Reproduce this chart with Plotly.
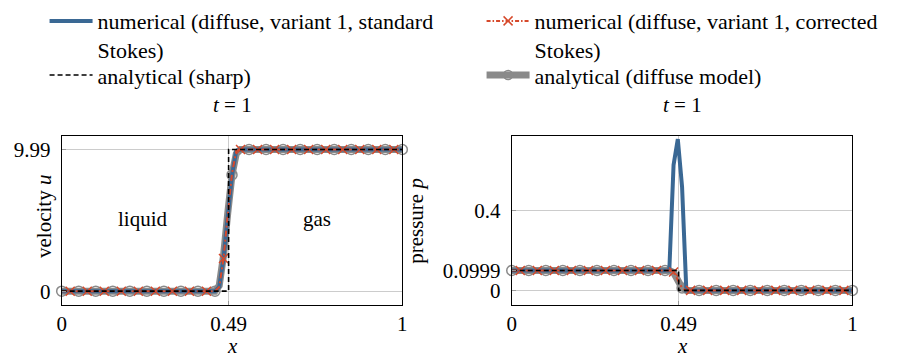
import numpy as np
import plotly.graph_objects as go
from plotly.subplots import make_subplots

# ---------------- data ----------------
x_grid = np.linspace(0.0, 1.0, 81)  # numerical grid, dx = 0.0125

# velocity u, numerical (standard Stokes)
u_std = ([0.0] * 37 + [0.3, 2.3, 5.3, 8.2, 9.9] + [9.99] * 39)
# velocity u, numerical (corrected Stokes)
u_cor = ([0.0] * 37 + [0.3, 2.3, 5.4, 8.3, 9.9] + [9.99] * 39)
# velocity u, analytical (diffuse model)
u_dif = ([0.0] * 37 + [0.4, 2.5, 5.5, 8.2, 9.7] + [9.99] * 39)

# pressure p, numerical (standard Stokes) -- spurious peak
p_std = ([0.0999] * 38 + [0.63, 0.76, 0.52] + [0.0] * 40)
# pressure p, numerical (corrected Stokes)
p_cor = ([0.0999] * 38 + [0.092, 0.055, 0.012] + [0.0] * 40)
# pressure p, analytical (diffuse model)
p_dif = ([0.0999] * 38 + [0.090, 0.052, 0.012] + [0.0] * 40)

# analytical sharp solutions
x_sharp = [0.0, 0.49, 0.49, 1.0]
u_sharp = [0.0, 0.0, 9.99, 9.99]
p_sharp = [0.0999, 0.0999, 0.0, 0.0]

x_ticks = [0, 0.49, 1]
x_ticktext = ["0", "0.49", "1"]
u_ticks = [0, 9.99]
u_ticktext = ["0", "9.99"]
p_ticks = [0, 0.0999, 0.4]
p_ticktext = ["0", "0.0999", "0.4"]

legend_names = [
    "numerical (diffuse, variant 1, standard<br>Stokes)",
    "numerical (diffuse, variant 1, corrected<br>Stokes)",
    "analytical (sharp)",
    "analytical (diffuse model)",
]

# ---------------- style ----------------
FONT = "Liberation Serif"
FS = 21
FSL = 22
BLUE = "#3a6894"
RED = "#d6492b"
GRAY = "#8a8a8a"
BLACK = "#000000"
GRID = "#cccccc"

fig = make_subplots(rows=1, cols=2)

xg = np.asarray(x_grid)


def add_panel(col, y_dif, y_std, y_cor, y_sharp):
    yd = np.asarray(y_dif)
    yc = np.asarray(y_cor)
    fig.add_trace(go.Scatter(x=xg, y=yd, mode="lines",
                             line=dict(color=GRAY, width=7),
                             showlegend=False, hoverinfo="skip"), row=1, col=col)
    fig.add_trace(go.Scatter(x=xg[::4], y=yd[::4], mode="markers",
                             marker=dict(symbol="circle-open", size=10, color=GRAY,
                                         line=dict(width=1.5, color=GRAY)),
                             cliponaxis=False,
                             showlegend=False, hoverinfo="skip"), row=1, col=col)
    fig.add_trace(go.Scatter(x=xg, y=y_std, mode="lines",
                             line=dict(color=BLUE, width=4),
                             showlegend=False, hoverinfo="skip"), row=1, col=col)
    fig.add_trace(go.Scatter(x=xg, y=yc, mode="lines",
                             line=dict(color=RED, width=2, dash="6px,3px,2px,3px"),
                             showlegend=False, hoverinfo="skip"), row=1, col=col)
    fig.add_trace(go.Scatter(x=xg[2::4], y=yc[2::4], mode="markers",
                             marker=dict(symbol="x-thin-open", size=9, color=RED,
                                         line=dict(width=1.5, color=RED)),
                             cliponaxis=False,
                             showlegend=False, hoverinfo="skip"), row=1, col=col)
    fig.add_trace(go.Scatter(x=x_sharp, y=y_sharp, mode="lines",
                             line=dict(color=BLACK, width=1.6, dash="5px,3px"),
                             showlegend=False, hoverinfo="skip"), row=1, col=col)


add_panel(1, u_dif, u_std, u_cor, u_sharp)
add_panel(2, p_dif, p_std, p_cor, p_sharp)

# legend-only entries (row 1 -> legend, row 2 -> legend2)
fig.add_trace(go.Scatter(x=[None], y=[None], mode="lines", name=legend_names[0],
                         line=dict(color=BLUE, width=4), legend="legend"))
fig.add_trace(go.Scatter(x=[None], y=[None], mode="lines+markers", name=legend_names[1],
                         line=dict(color=RED, width=2, dash="4px,2px,1.5px,2px"),
                         marker=dict(symbol="x-thin-open", size=9, color=RED,
                                     line=dict(width=1.5, color=RED)), legend="legend"))
fig.add_trace(go.Scatter(x=[None], y=[None], mode="lines", name=legend_names[2],
                         line=dict(color=BLACK, width=1.6, dash="5px,3px"), legend="legend2"))
fig.add_trace(go.Scatter(x=[None], y=[None], mode="lines+markers", name=legend_names[3],
                         line=dict(color=GRAY, width=7),
                         marker=dict(symbol="circle-open", size=9, color=GRAY,
                                     line=dict(width=1.5, color=GRAY)), legend="legend2"))

axis_common = dict(showline=True, linecolor="black", linewidth=1, mirror=True,
                   showgrid=True, gridcolor=GRID, gridwidth=1, zeroline=False,
                   ticks="inside", ticklen=4, tickcolor="#999999",
                   tickfont=dict(family=FONT, size=FS, color="black"))

ydom = [1 - 304 / 359, 1 - 132 / 359]
fig.update_xaxes(**axis_common, range=[0, 1], tickvals=x_ticks, ticktext=x_ticktext)
fig.update_xaxes(domain=[57.3 / 922, 401.7 / 922], row=1, col=1)
fig.update_xaxes(domain=[512.3 / 922, 856.7 / 922], row=1, col=2)

fig.update_yaxes(**axis_common, domain=ydom, ticklabelstandoff=6)
fig.update_yaxes(range=[-0.97, 10.96], tickvals=u_ticks, ticktext=u_ticktext, row=1, col=1)
fig.update_yaxes(range=[-0.073, 0.777], tickvals=p_ticks, ticktext=p_ticktext, row=1, col=2)

tfont = dict(family=FONT, size=FS, color="black")
xl_c = (57.3 + 401.7) / 2 / 922
xr_c = (512.3 + 856.7) / 2 / 922
annotations = [
    dict(text="<i>t</i> = 1", x=xl_c, y=1 - 101 / 359, xref="paper", yref="paper",
         showarrow=False, font=tfont, xanchor="center", yanchor="middle"),
    dict(text="<i>t</i> = 1", x=xr_c, y=1 - 101 / 359, xref="paper", yref="paper",
         showarrow=False, font=tfont, xanchor="center", yanchor="middle"),
    dict(text="<i>x</i>", x=xl_c, y=1 - 346 / 359, xref="paper", yref="paper",
         showarrow=False, font=tfont, xanchor="center", yanchor="middle"),
    dict(text="<i>x</i>", x=xr_c, y=1 - 346 / 359, xref="paper", yref="paper",
         showarrow=False, font=tfont, xanchor="center", yanchor="middle"),
    dict(text="liquid", x=0.24, y=5.07, xref="x", yref="y", showarrow=False, font=tfont),
    dict(text="gas", x=0.75, y=5.07, xref="x", yref="y", showarrow=False, font=tfont),
    dict(text="velocity <i>u</i>", x=40 / 922, y=1 - 214 / 359, xref="paper", yref="paper",
         textangle=-90, showarrow=False, font=tfont, xanchor="center", yanchor="middle"),
    dict(text="pressure <i>p</i>", x=416 / 922, y=1 - 218 / 359, xref="paper", yref="paper",
         textangle=-90, showarrow=False, font=tfont, xanchor="center", yanchor="middle"),
]

legend_common = dict(orientation="h", x=40 / 922, xanchor="left", yanchor="top",
                     entrywidth=379, entrywidthmode="pixels", itemwidth=43,
                     valign="top", bgcolor="rgba(0,0,0,0)", tracegroupgap=0,
                     font=dict(family=FONT, size=FSL, color="black"))

fig.update_layout(
    width=922, height=359,
    margin=dict(l=0, r=0, t=0, b=0),
    plot_bgcolor="white", paper_bgcolor="white",
    font=dict(family=FONT, size=FS, color="black"),
    annotations=annotations,
    legend=dict(**legend_common, y=1 + 6 / 359),
    legend2=dict(**legend_common, y=1 - 49 / 359),
)

fig.write_html("out.html")
